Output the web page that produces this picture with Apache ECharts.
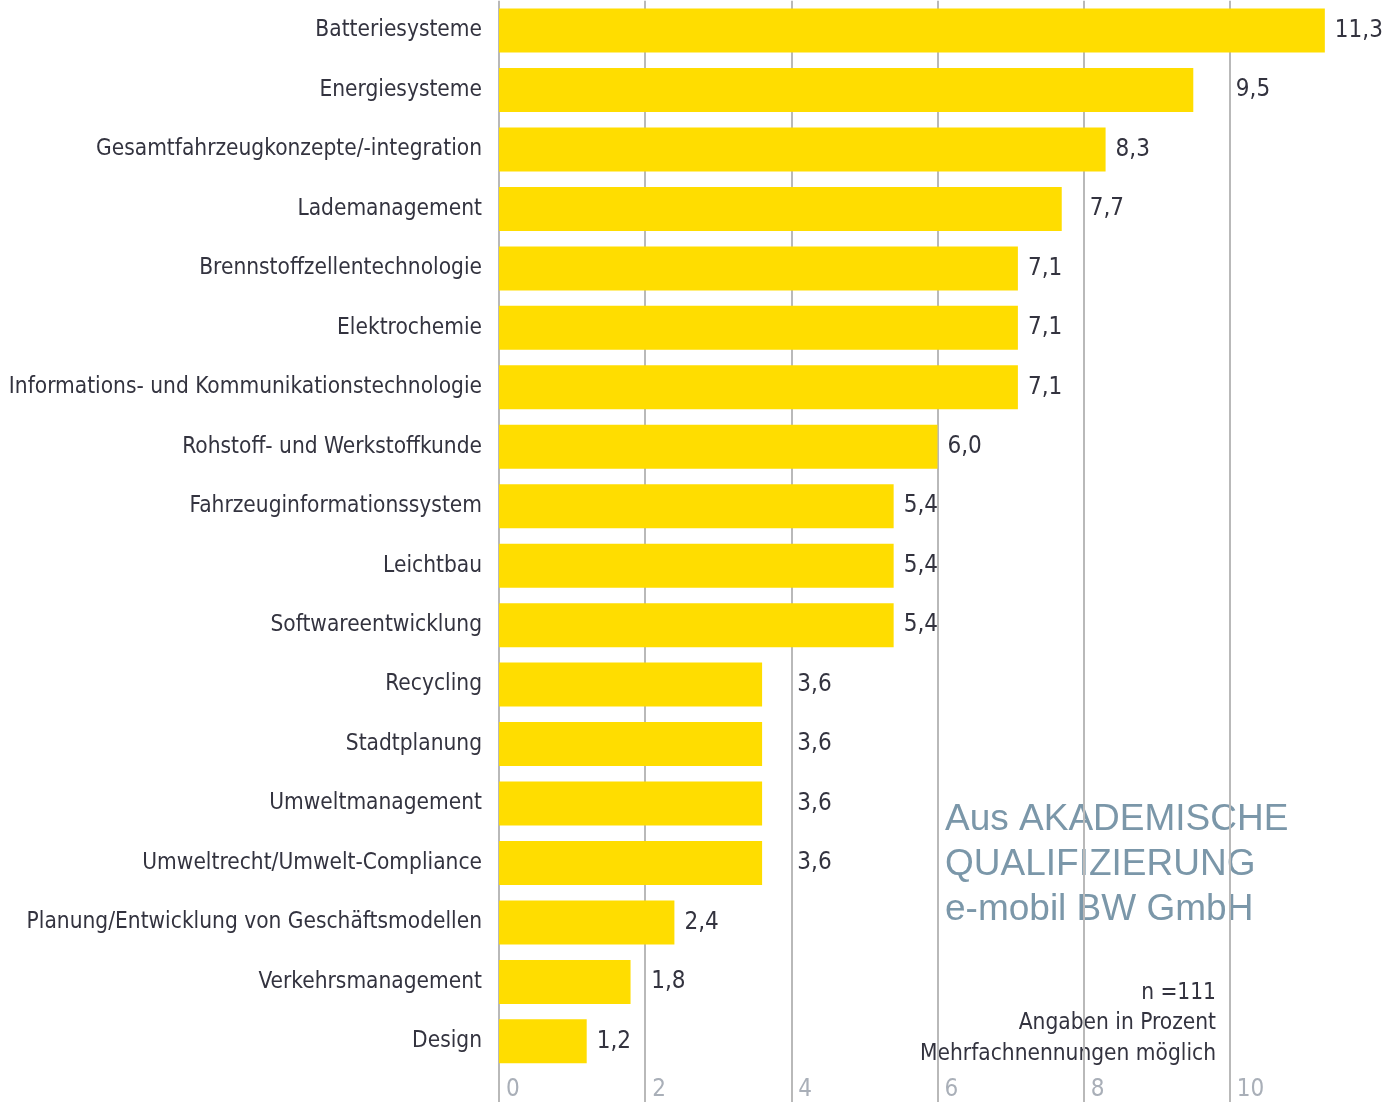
<!DOCTYPE html>
<html><head><meta charset="utf-8">
<script src="https://cdn.jsdelivr.net/npm/echarts@6/dist/echarts.min.js"></script>
<style>html,body{margin:0;padding:0;background:#fff}#c{width:1389px;height:1106px}</style>
</head><body><div id="c"></div>
<script>
const categories = [
  'Batteriesysteme', 'Energiesysteme', 'Gesamtfahrzeugkonzepte/-integration', 'Lademanagement',
  'Brennstoffzellentechnologie', 'Elektrochemie', 'Informations- und Kommunikationstechnologie',
  'Rohstoff- und Werkstoffkunde', 'Fahrzeuginformationssystem', 'Leichtbau', 'Softwareentwicklung',
  'Recycling', 'Stadtplanung', 'Umweltmanagement', 'Umweltrecht/Umwelt-Compliance',
  'Planung/Entwicklung von Geschäftsmodellen', 'Verkehrsmanagement', 'Design'
];
const values = [11.3, 9.5, 8.3, 7.7, 7.1, 7.1, 7.1, 6.0, 5.4, 5.4, 5.4, 3.6, 3.6, 3.6, 3.6, 2.4, 1.8, 1.2];
const xTicks = [0, 2, 4, 6, 8, 10];
const noteLines = ['n =111', 'Angaben in Prozent', 'Mehrfachnennungen möglich'];
const sourceLines = ['Aus AKADEMISCHE', 'QUALIFIZIERUNG', 'e-mobil BW GmbH'];

const NARROW = '"Liberation Sans Narrow", "DejaVu Sans Condensed", sans-serif';
const TXT = '#33333f';
const GRIDC = '#b9b9b9';
const fmt = v => v.toFixed(1).replace('.', ',');
const xMax = 12, xInt = 2;

const chart = echarts.init(document.getElementById('c'), null, {renderer: 'canvas'});
const option = {
  animation: false,
  backgroundColor: '#ffffff',
  grid: [
    {left: 499, top: 0.8, width: 877, height: 1070.3, outerBoundsMode: 'none', containLabel: false},
    {left: 499, top: 1071, width: 877, height: 31, outerBoundsMode: 'none', containLabel: false}
  ],
  xAxis: [
    {gridIndex: 0, type: 'value', min: 0, max: xMax, interval: xInt,
     axisLine: {show: false}, axisTick: {show: false}, axisLabel: {show: false},
     splitLine: {show: true, showMaxLine: false, lineStyle: {color: GRIDC, width: 2}}},
    {gridIndex: 1, type: 'value', min: 0, max: xMax, interval: xInt,
     axisLine: {show: false}, axisTick: {show: false},
     axisLabel: {show: true, inside: true, margin: 0, align: 'left', padding: [0, 0, 0, 7],
       showMaxLabel: false, color: '#a9afb8', fontFamily: NARROW, fontSize: 24,
       formatter: v => (xTicks.indexOf(v) >= 0 ? String(v) : '')},
     splitLine: {show: true, showMaxLine: false, lineStyle: {color: GRIDC, width: 2}}}
  ],
  yAxis: [
    {gridIndex: 0, type: 'category', data: categories, inverse: true,
     axisLine: {show: false}, axisTick: {show: false},
     axisLabel: {margin: 17, color: TXT, fontFamily: NARROW, fontSize: 22.5}},
    {gridIndex: 1, type: 'value', min: 0, max: 1, show: false}
  ],
  series: [{
    type: 'bar', xAxisIndex: 0, yAxisIndex: 0,
    data: values, barWidth: 44,
    itemStyle: {color: '#FFDD00'},
    label: {show: true, position: 'right', distance: 10, color: TXT, fontFamily: NARROW, fontSize: 24,
      formatter: p => fmt(p.value)}
  }],
  graphic: [
    {type: 'text', left: 945, top: 797, silent: true,
     style: {text: sourceLines.join('\n'), font: '37px "Liberation Sans", Arial, sans-serif',
       fill: '#7b97a9', lineHeight: 45}},
  ].concat(noteLines.map((t, i) => ({
    type: 'text', silent: true, x: 1216, y: [993, 1023, 1054][i],
    style: {text: t, font: '22.5px ' + NARROW, fill: TXT, align: 'right', verticalAlign: 'middle'}
  })))
};
chart.setOption(option);

// place value labels: just past the next grid line when the bar ends just before it
const px = v => chart.convertToPixel({xAxisIndex: 0}, v);
const data = values.map(v => {
  const g = Math.ceil(v / xInt) * xInt;
  let d = 10;
  if (g - v > 0 && g - v <= 0.55) d = px(g) + 6 - px(v);
  return {value: v, label: {distance: d}};
});
chart.setOption({series: [{data: data}]});
</script>
</body></html>
